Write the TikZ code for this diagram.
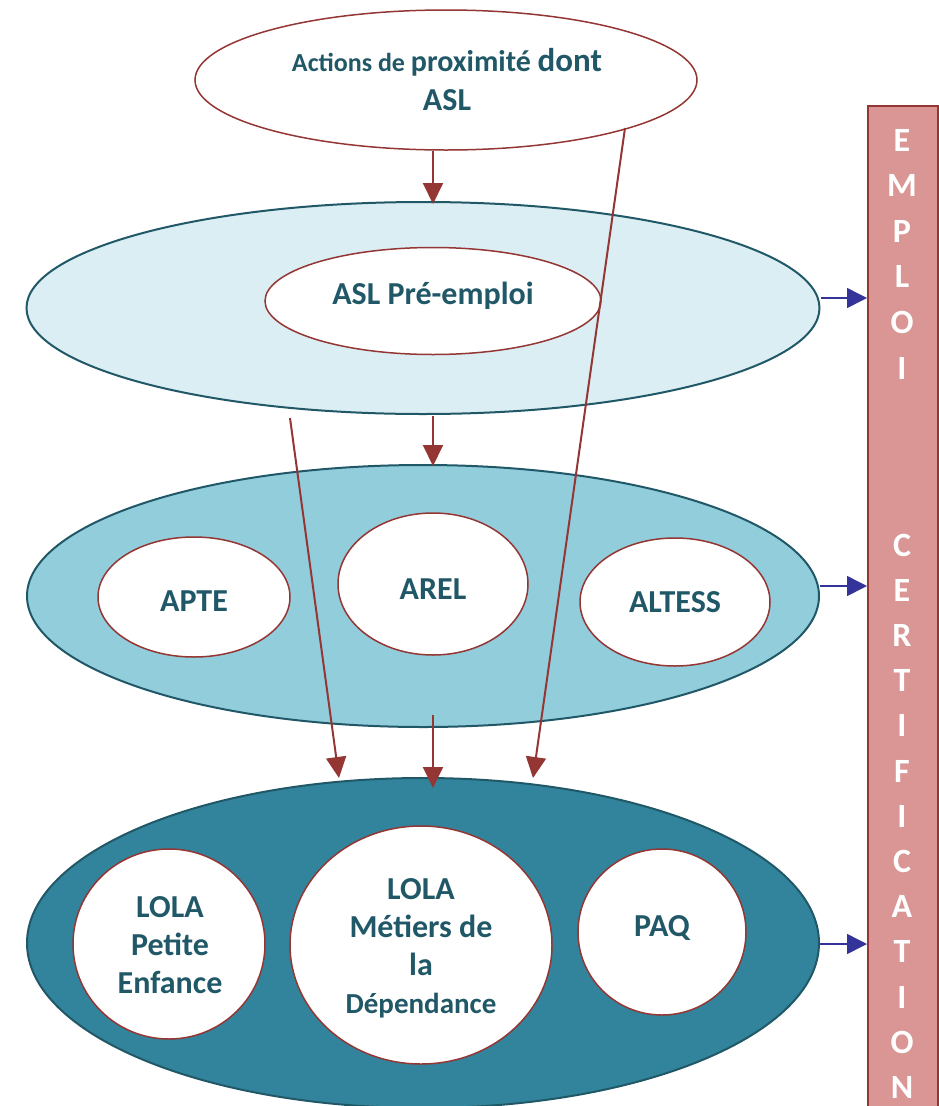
\documentclass[tikz,border=0pt]{standalone}
\usepackage{fontspec}
\setmainfont{Carlito}
\usetikzlibrary{shapes.geometric,arrows.meta}
\definecolor{dred}{HTML}{943634}
\definecolor{dteal}{HTML}{215868}
\definecolor{lblue}{HTML}{DBEEF3}
\definecolor{mblue}{HTML}{92CDDC}
\definecolor{sblue}{HTML}{31849B}
\definecolor{pinkbar}{HTML}{D99694}
\definecolor{navy}{HTML}{333399}
\begin{document}
\begin{tikzpicture}[x=1pt,y=-1pt,
  bigell/.style={ellipse, draw=dteal, line width=2pt, inner sep=0pt},
  inell/.style={ellipse, draw=dred, line width=1.5pt, fill=white, inner sep=0pt},
  lbl/.style={text=dteal, font=\bfseries\fontsize{32}{38}\selectfont, align=center, inner sep=0pt},
  redarrow/.style={draw=dred, line width=2pt, -{Triangle[length=21pt,width=20pt]}},
  bluearrow/.style={draw=navy, line width=1.5pt, -{Triangle[length=20pt,width=20pt]}},
  barletter/.style={text=white, font=\bfseries\fontsize{34}{40}\selectfont, inner sep=0pt}
]
\useasboundingbox (0,0) rectangle (939,1106);

% right bar
\node[draw=dred, line width=2pt, fill=pinkbar, minimum width=70pt, minimum height=1010pt, inner sep=0pt, anchor=north west] (bar) at (867,105) {};
\foreach \l [count=\i from 0] in {E,M,P,L,O,I}
  \node[barletter] (emp\i) at (902,{140+45.6*\i}) {\l};
\foreach \l [count=\i from 0] in {C,E,R,T,I,F,I,C,A,T,I,O,N}
  \node[barletter] (cert\i) at (902,{545+45.2*\i}) {\l};

% top ellipse
\node[inell, minimum width=502pt, minimum height=140pt] (top) at (446,80) {};
\node[text=dteal, align=center, inner sep=0pt, font=\bfseries\fontsize{32}{39}\selectfont] (toptxt) at (447,80)
  {{\fontsize{26}{39}\selectfont Actions de }{\fontsize{30}{39}\selectfont proximité }{\fontsize{33}{39}\selectfont dont}\\ASL};

% second ellipse
\node[bigell, fill=lblue, minimum width=793pt, minimum height=212pt] (e2) at (423,308) {};
\node[inell, minimum width=336pt, minimum height=107pt] (asl) at (433,301) {};
\node[lbl] (asltxt) at (433,296) {ASL Pré-emploi};

% third ellipse
\node[bigell, fill=mblue, minimum width=792pt, minimum height=262pt] (e3) at (423,596) {};
\node[inell, minimum width=192pt, minimum height=120pt] (apte) at (194,597) {};
\node[inell, minimum width=190pt, minimum height=142pt] (arel) at (433,584) {};
\node[inell, minimum width=190pt, minimum height=128pt] (altess) at (675,602) {};
\node[lbl] (aptetxt) at (194,601) {APTE};
\node[lbl] (areltxt) at (433,589) {AREL};
\node[lbl] (altesstxt) at (675,602) {ALTESS};

% fourth ellipse
\node[bigell, fill=sblue, minimum width=792pt, minimum height=330pt] (e4) at (423,943) {};
\node[inell, minimum width=192pt, minimum height=190pt] (lolape) at (169,944) {};
\node[inell, minimum width=262pt, minimum height=238pt] (lolamd) at (421,945) {};
\node[inell, minimum width=168pt, minimum height=166pt] (paq) at (662,932) {};
\node[lbl] (lolapetxt) at (170,945) {LOLA\\Petite\\Enfance};
\node[lbl] (lolamdtxt) at (421,948) {LOLA\\Métiers de\\la\\{\fontsize{29}{38}\selectfont Dépendance}};
\node[lbl] (paqtxt) at (662,928) {PAQ};

% connector coordinates
\coordinate (a1s) at (433,151);
\coordinate (a1e) at (433,204);
\coordinate (a2s) at (433,416);
\coordinate (a2e) at (433,466);
\coordinate (a3s) at (433,715);
\coordinate (a3e) at (433,788);
\coordinate (a4s) at (290,418);
\coordinate (a4e) at (339,778);
\coordinate (a5s) at (625,128);
\coordinate (a5e) at (533,778);

\draw[redarrow] (a1s) -- (a1e);
\draw[redarrow] (a2s) -- (a2e);
\draw[redarrow] (a3s) -- (a3e);
\draw[redarrow] (a4s) -- (a4e);
\draw[redarrow] (a5s) -- (a5e);

% blue arrows to bar
\draw[bluearrow] (e2.east |- 0,298) -- (bar.west |- 0,298);
\draw[bluearrow] (e3.east |- 0,586) -- (bar.west |- 0,586);
\draw[bluearrow] (e4.east |- 0,944) -- (bar.west |- 0,944);
\end{tikzpicture}
\end{document}
